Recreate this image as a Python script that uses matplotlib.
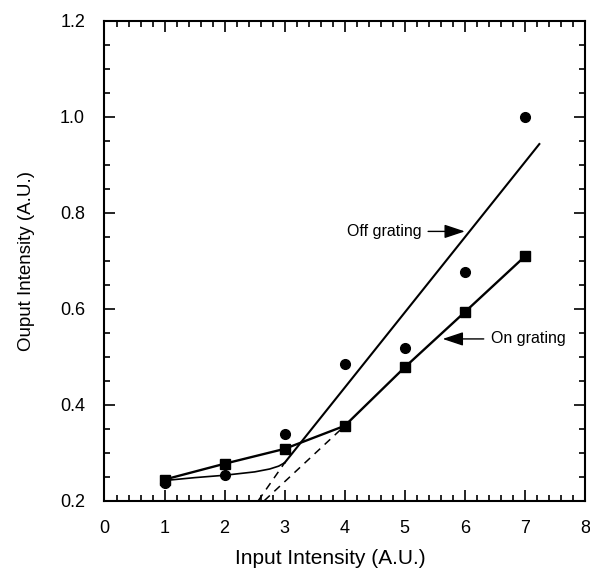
import matplotlib
matplotlib.use("Agg")
import matplotlib.pyplot as plt
from matplotlib.ticker import MultipleLocator

plt.rcParams["font.family"] = ["Liberation Sans", "DejaVu Sans"]

# ── data ──────────────────────────────────────────────────────────────────────
input_x = [1, 2, 3, 4, 5, 6, 7]
off_grating = [0.236, 0.253, 0.339, 0.485, 0.519, 0.677, 1.000]   # circles
on_grating = [0.244, 0.277, 0.308, 0.356, 0.478, 0.593, 0.709]    # squares

# smooth low-intensity part of the off-grating fit
off_curve_x = [1.0, 1.5, 2.0, 2.5, 2.75, 2.9, 3.0]
off_curve_y = [0.242, 0.248, 0.253, 0.260, 0.266, 0.272, 0.279]
# straight high-intensity part of the off-grating fit
off_fit_x = [3.0, 7.24]
off_fit_y = [0.279, 0.943]

# dashed extrapolations down to the x axis
off_dash_x = [2.56, 3.0]
off_dash_y = [0.200, 0.279]
on_dash_x = [2.66, 4.0]
on_dash_y = [0.200, 0.356]

fig = plt.figure(figsize=(5.90, 5.73), dpi=100)
ax = fig.add_axes([0.1771, 0.1262, 0.8144, 0.8377])

ax.plot(off_curve_x, off_curve_y, "-", color="black", lw=1.2)
ax.plot(off_fit_x, off_fit_y, "-", color="black", lw=1.5)
ax.plot(input_x, on_grating, "-", color="black", lw=1.7)
ax.plot(off_dash_x, off_dash_y, "--", color="black", lw=1.1, dashes=(5, 4))
ax.plot(on_dash_x, on_dash_y, "--", color="black", lw=1.1, dashes=(5, 4))

ax.plot(input_x, off_grating, "o", color="black", ms=7, zorder=4)
ax.plot(input_x, on_grating, "s", color="black", ms=7.5, zorder=4)

arrow = dict(arrowstyle="-|>,head_length=0.9,head_width=0.3", color="black",
             lw=1.0, mutation_scale=14, shrinkA=3, shrinkB=0)
ax.annotate("Off grating", xy=(6.0, 0.761), xytext=(4.03, 0.761),
            fontsize=11.5, va="center", ha="left", arrowprops=arrow)
ax.annotate("On grating", xy=(5.63, 0.537), xytext=(6.43, 0.537),
            fontsize=11.5, va="center", ha="left", arrowprops=arrow)

ax.set_xlim(0, 8)
ax.set_ylim(0.2, 1.2)
ax.xaxis.set_major_locator(MultipleLocator(1))
ax.xaxis.set_minor_locator(MultipleLocator(0.2))
ax.yaxis.set_major_locator(MultipleLocator(0.2))
ax.yaxis.set_minor_locator(MultipleLocator(0.05))
ax.set_yticklabels([f"{v:.1f}" for v in ax.get_yticks()])

ax.tick_params(which="both", direction="in", top=True, right=True,
               width=1.2, labelsize=13, pad=14)
ax.tick_params(which="major", length=8)
ax.tick_params(which="minor", length=4)
for s in ax.spines.values():
    s.set_linewidth(1.5)

ax.set_xlabel("Input Intensity (A.U.)", fontsize=15)
ax.xaxis.set_label_coords(0.471, -0.100)
ax.set_ylabel("Ouput Intensity (A.U.)", fontsize=13.5, labelpad=18)

fig.savefig("out.png", dpi=100)
